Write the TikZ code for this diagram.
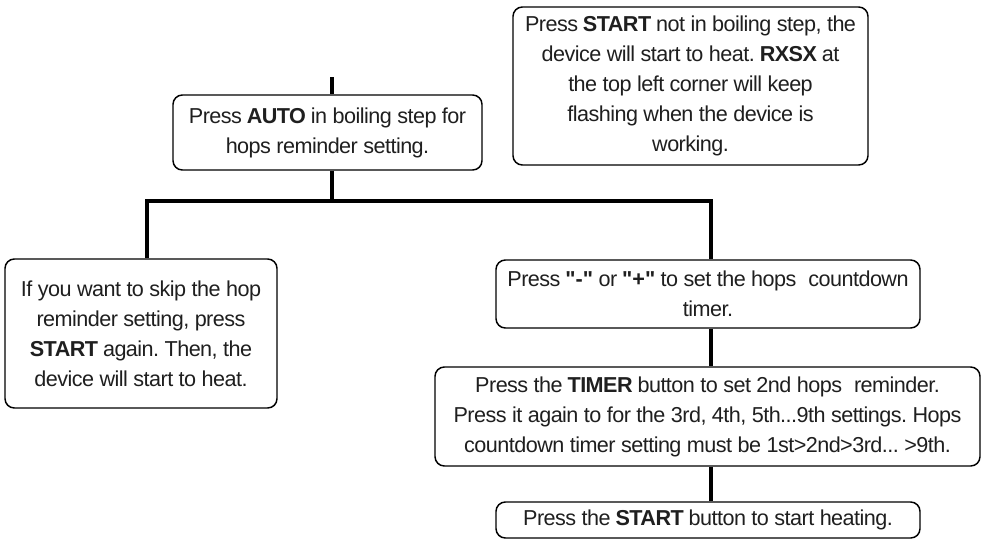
\documentclass[tikz,border=0pt]{standalone}
\usepackage{fontspec}
\setmainfont{Liberation Sans}
\newfontfamily\boxfont[LetterSpace=-2.5]{Liberation Sans}
\frenchspacing
\begin{document}
\begin{tikzpicture}[x=0.75pt,y=-0.75pt,
  box/.style={draw=black, line width=1.1pt, rounded corners=7pt, fill=white,
    align=center, inner sep=0pt, text=black!88,
    font=\boxfont\fontsize{16.2}{22.5}\selectfont\frenchspacing},
  link/.style={draw=black, line width=3.6pt}]
\useasboundingbox (0,0) rectangle (984,540);
\node[box, minimum width=309*0.75pt, minimum height=75*0.75pt] (auto) at (327.5,132.5)
  {Press \textbf{AUTO} in boiling step for\\hops reminder setting.};
\node[box, minimum width=355*0.75pt, minimum height=158*0.75pt] (startinfo) at (690.5,86)
  {Press \textbf{START} not in boiling step, the\\device will start to heat. \textbf{RXSX} at\\the top left corner will keep\\flashing when the device is\\working.};
\node[box, minimum width=272*0.75pt, minimum height=149*0.75pt] (skip) at (141,333.5)
  {If you want to skip the hop\\reminder setting, press\\\textbf{START} again. Then, the\\device will start to heat.};
\node[box, minimum width=424*0.75pt, minimum height=68*0.75pt] (setcd) at (708,294)
  {Press \textbf{\textquotedbl-\textquotedbl} or \textbf{\textquotedbl+\textquotedbl} to set the hops\hspace{0.3em} countdown\\timer.};
\node[box, minimum width=545*0.75pt, minimum height=99*0.75pt] (timer) at (707.5,416.5)
  {Press the \textbf{TIMER} button to set 2nd hops\hspace{0.3em} reminder.\\Press it again to for the 3rd, 4th, 5th...9th settings. Hops\\countdown timer setting must be 1st>2nd>3rd... >9th.};
\node[box, minimum width=424*0.75pt, minimum height=36*0.75pt] (startheat) at (708,520)
  {Press the \textbf{START} button to start heating.};
\coordinate (stub) at (332,77);
\coordinate (busL) at (147,201);
\coordinate (busM) at (332,201);
\coordinate (busR) at (711,201);
\draw[link] (stub) -- (stub |- auto.north);
\draw[link] (busM |- auto.south) -- (busM);
\draw[link] (busL |- skip.north) -- (busL) -- (busR) -- (busR |- setcd.north);
\draw[link] (busR |- setcd.south) -- (busR |- timer.north);
\draw[link] (busR |- timer.south) -- (busR |- startheat.north);
\end{tikzpicture}
\end{document}
